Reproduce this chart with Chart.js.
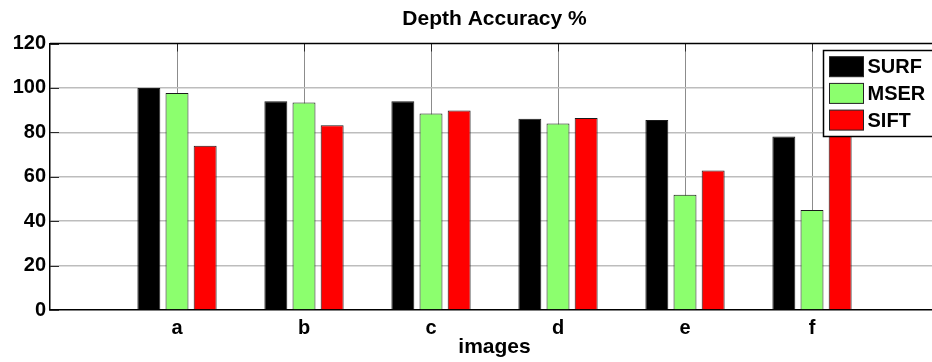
<!DOCTYPE html>
<html>
<head>
<meta charset="utf-8">
<script src="https://cdn.jsdelivr.net/npm/chart.js@4/dist/chart.umd.min.js"></script>
<style>
  html, body { margin: 0; padding: 0; background: #fff; overflow: hidden; }
  #wrap { width: 945px; height: 362px; }
</style>
</head>
<body>
<div id="wrap"><canvas id="chart" width="945" height="362"></canvas></div>
<script>
// Image categories along the x axis
const categories = ['a', 'b', 'c', 'd', 'e', 'f'];

// Depth accuracy (%) per detector
const surf = [100, 94, 94, 86.1, 85.6, 78.1];
const mser = [97.7, 93.4, 88.5, 84, 51.9, 45];
const sift = [74, 83.2, 89.8, 86.4, 62.8, 87];

const seriesNames = ['SURF', 'MSER', 'SIFT'];
const seriesColors = ['#000000', '#8cff6e', '#ff0000'];

// Y axis range and step
const yMin = 0, yMax = 120, yStep = 20;

const FONT = "'Liberation Sans', Arial, Helvetica, sans-serif";

function points(values) {
  return values.map((v, i) => ({ x: i + 1, y: v }));
}

// Frame, inward tick marks and the boxed legend
const decorations = {
  id: 'decorations',
  beforeDatasetsDraw(chart) {
    const { ctx, chartArea: a, scales: { x, y } } = chart;
    ctx.save();
    ctx.strokeStyle = '#2a2a2a';
    ctx.lineWidth = 1;
    ctx.beginPath();
    // inward ticks along the top edge at each category
    categories.forEach((c, i) => {
      const px = Math.round(x.getPixelForValue(i + 1)) + 0.5;
      ctx.moveTo(px, a.top);
      ctx.lineTo(px, a.top + 8);
    });
    // inward ticks on the left edge at each y step
    for (let v = yMin; v <= yMax; v += yStep) {
      const py = Math.round(y.getPixelForValue(v)) + 0.5;
      ctx.moveTo(a.left, py);
      ctx.lineTo(a.left + 9, py);
    }
    ctx.stroke();
    ctx.restore();
  },
  afterDatasetsDraw(chart) {
    const { ctx, chartArea: a } = chart;
    ctx.save();
    // top and right edges of the box
    ctx.strokeStyle = '#000';
    ctx.lineWidth = 1.5;
    ctx.beginPath();
    ctx.moveTo(a.left, a.top);
    ctx.lineTo(a.right, a.top);
    ctx.moveTo(a.right, a.top);
    ctx.lineTo(a.right, a.bottom);
    ctx.stroke();

    // legend box
    const lx = 823.5, ly = 50.5, lw = 200, lh = 86;
    ctx.fillStyle = '#fff';
    ctx.fillRect(lx, ly, lw, lh);
    ctx.strokeStyle = '#000';
    ctx.lineWidth = 1.5;
    ctx.strokeRect(lx, ly, lw, lh);

    ctx.font = 'bold 20px ' + FONT;
    ctx.textBaseline = 'middle';
    ctx.textAlign = 'left';
    chart.data.datasets.forEach((ds, i) => {
      const cy = 66.7 + i * 26.7;
      ctx.fillStyle = ds.backgroundColor;
      ctx.fillRect(829.5, cy - 10, 34, 20);
      ctx.strokeStyle = '#222';
      ctx.lineWidth = 1;
      ctx.strokeRect(829.5, cy - 10, 34, 20);
      ctx.fillStyle = '#000';
      ctx.fillText(ds.label, 867.5, cy + 1);
    });
    ctx.restore();
  }
};

const seriesData = [surf, mser, sift];

new Chart(document.getElementById('chart'), {
  type: 'bar',
  data: {
    datasets: seriesData.map((vals, i) => ({
      label: seriesNames[i],
      data: points(vals),
      backgroundColor: seriesColors[i],
      borderColor: '#1a1a1a',
      borderWidth: 1,
      categoryPercentage: 0.665,
      barPercentage: 0.815
    }))
  },
  options: {
    responsive: false,
    animation: false,
    devicePixelRatio: 1,
    layout: { padding: { left: 0, right: 5, top: 0, bottom: 0 } },
    plugins: {
      legend: { display: false },
      tooltip: { enabled: false },
      title: {
        display: true,
        text: 'Depth Accuracy %',
        fullSize: false,
        color: '#000',
        font: { family: FONT, size: 21, weight: 'bold' },
        padding: { top: 6.5, bottom: 11.8 }
      }
    },
    scales: {
      x: {
        type: 'linear',
        min: 0,
        max: 7,
        offset: false,
        afterFit(scale) { scale.height = 52; },
        afterBuildTicks(scale) {
          scale.ticks = [0, 1, 2, 3, 4, 5, 6, 7].map(v => ({ value: v }));
        },
        ticks: {
          stepSize: 1,
          autoSkip: false,
          maxRotation: 0,
          padding: 6,
          color: '#000',
          font: { family: FONT, size: 20, weight: 'bold' },
          callback: (v) => categories[v - 1] ?? ''
        },
        grid: {
          offset: false,
          drawTicks: false,
          lineWidth: 1,
          color: (c) => (c.tick && c.tick.value >= 1 && c.tick.value <= categories.length) ? '#8c8c8c' : 'rgba(0,0,0,0)'
        },
        border: { display: true, color: '#000', width: 1.5 },
        title: {
          display: true,
          text: 'images',
          color: '#000',
          font: { family: FONT, size: 21, weight: 'bold' },
          padding: { top: 0, bottom: 2 }
        }
      },
      y: {
        min: yMin,
        max: yMax,
        afterFit(scale) { scale.width = 50; },
        ticks: {
          stepSize: yStep,
          padding: 4,
          color: '#000',
          font: { family: FONT, size: 20, weight: 'bold' }
        },
        grid: {
          drawTicks: false,
          lineWidth: 1.5,
          color: (c) => (c.tick && c.tick.value > yMin && c.tick.value < yMax) ? '#bdbdbd' : 'rgba(0,0,0,0)'
        },
        border: { display: true, color: '#000', width: 1.5 }
      }
    }
  },
  plugins: [decorations]
});
</script>
</body>
</html>
